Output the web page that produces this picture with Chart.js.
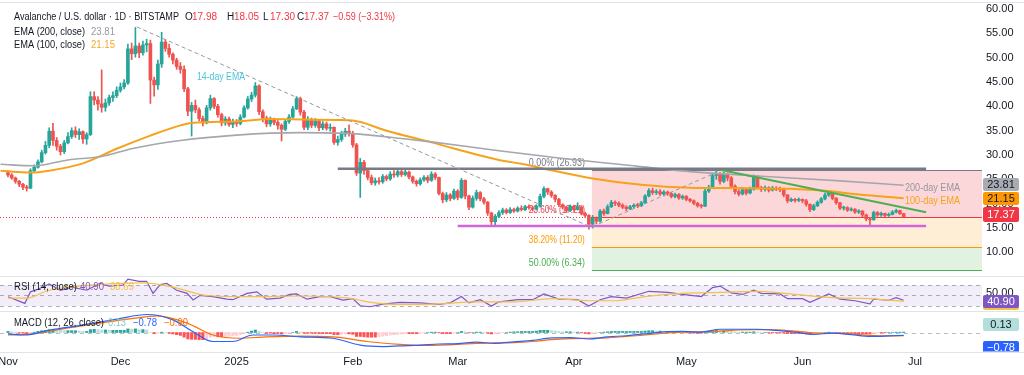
<!DOCTYPE html>
<html><head><meta charset="utf-8">
<script src="https://cdn.jsdelivr.net/npm/chart.js@4.4.1/dist/chart.umd.min.js"></script>
<style>
html,body{margin:0;padding:0;background:#fff;}
body{width:1024px;height:375px;position:relative;overflow:hidden;}
.pane{position:absolute;left:0;width:1024px;}
.sep{position:absolute;left:0;width:1024px;height:1px;background:#e0e3eb;}
</style></head><body>
<div class="pane" style="top:0;height:276px"><canvas id="cMain"></canvas></div>
<div class="pane" style="top:277px;height:34px"><canvas id="cRsi"></canvas></div>
<div class="pane" style="top:312px;height:63px"><canvas id="cMacd"></canvas></div>
<div class="sep" style="top:2px"></div>
<div class="sep" style="top:276px"></div>
<div class="sep" style="top:311px"></div>
<div class="sep" style="top:352px"></div>
<script>
// ---------- DATA (day index 0 = 1 Nov 2024, daily candles) ----------
const opens = [
26.4,25.9,25.3,24.6,24.0,23.4,23.2,26.8,27.5,28.6,
30.5,32.0,34.9,33.0,31.8,30.7,32.5,33.8,35.0,34.2,
34.8,33.3,34.2,42.0,41.3,40.5,39.8,40.7,41.8,42.2,
43.3,44.0,44.8,51.8,50.8,52.4,51.0,52.6,52.9,45.4,
44.4,48.7,53.2,51.9,50.7,49.5,48.2,47.6,43.6,39.0,
40.2,39.3,37.5,36.6,39.7,41.6,40.0,38.3,36.6,37.4,
36.3,36.8,36.5,37.8,39.7,41.5,42.3,44.2,38.9,37.6,
36.4,37.2,36.7,36.1,35.3,36.9,37.8,39.5,41.6,38.8,
35.7,37.3,36.1,37.0,35.6,36.4,35.5,35.7,32.6,33.2,
34.3,34.9,34.4,32.1,26.3,28.5,26.8,25.4,24.3,24.7,
24.5,25.6,25.1,26.1,25.9,26.6,26.0,26.5,25.5,24.6,
24.1,24.9,25.4,24.8,26.1,25.4,22.1,20.8,21.8,21.1,
22.6,21.3,24.8,21.6,19.3,21.1,22.3,21.0,20.3,18.1,
16.3,17.4,18.2,18.7,18.2,18.8,18.5,19.1,18.8,19.4,
19.2,18.9,19.5,21.5,23.1,22.4,21.7,20.9,19.8,19.3,
18.6,19.5,18.8,19.3,18.0,17.6,15.8,17.0,16.4,18.5,
18.0,19.4,20.3,20.1,19.7,19.3,19.0,19.4,19.7,19.6,
20.2,21.6,22.7,22.3,22.5,22.0,22.4,22.1,21.5,21.9,
21.2,21.5,20.9,20.6,20.1,19.6,19.5,22.6,23.4,25.8,
26.1,24.6,26.0,25.3,23.6,22.5,22.0,22.9,22.2,23.0,
25.4,23.3,23.0,23.3,22.8,23.2,23.0,22.9,21.8,20.6,
20.9,20.7,20.9,20.6,19.9,18.8,19.6,20.3,21.0,21.8,
22.3,21.1,20.2,19.1,19.2,18.7,18.9,18.3,18.5,17.7,
16.9,16.7,18.2,17.7,18.0,17.6,17.8,18.3,18.6,17.98];
const highs = [
26.8,26.2,25.5,24.8,24.2,23.8,27.2,28.0,29.0,31.0,
32.8,35.6,36.5,33.6,32.2,33.0,34.6,35.6,35.8,35.4,
35.0,34.6,43.0,43.0,42.0,47.5,41.5,42.3,43.0,44.0,
44.8,45.5,52.8,53.0,56.2,53.0,53.4,53.8,53.6,46.0,
49.5,55.2,53.7,52.8,51.0,49.9,49.0,48.3,43.9,40.8,
41.3,39.7,38.0,40.2,42.3,41.8,40.4,38.6,37.9,37.8,
37.4,37.3,38.3,40.1,42.0,42.9,44.9,44.4,39.3,38.0,
37.8,37.6,37.1,36.4,37.3,38.3,40.0,42.0,41.9,39.2,
37.9,37.6,37.5,37.2,36.9,36.8,36.4,35.8,33.9,34.9,
35.5,36.2,34.9,32.4,29.3,28.9,27.2,25.9,25.3,25.4,
26.0,25.9,26.6,26.8,27.0,26.9,26.9,26.7,25.7,24.9,
25.3,25.8,25.8,26.6,26.4,25.5,22.4,22.3,22.1,23.0,
22.9,25.2,24.9,21.8,21.6,22.8,22.5,21.3,20.5,18.3,
17.8,18.6,19.1,19.0,19.2,19.1,19.4,19.6,19.7,19.8,
19.5,19.8,22.0,23.5,23.2,22.7,21.9,21.1,20.0,19.5,
19.8,19.7,20.2,19.6,18.3,17.8,17.6,17.3,18.8,18.9,
19.8,20.7,20.6,20.4,20.0,19.6,19.7,20.0,20.1,20.5,
21.9,23.1,23.2,22.9,22.9,22.7,22.6,22.3,22.2,22.1,
21.8,21.7,21.1,20.8,20.3,19.9,23.0,23.8,26.3,26.9,
26.4,26.5,26.3,25.6,23.9,22.9,23.3,23.0,23.4,25.9,
25.8,23.6,23.7,23.5,23.6,23.5,23.4,23.0,21.9,21.2,
21.1,21.2,21.0,20.9,20.0,19.9,20.6,21.3,22.2,22.6,
22.5,21.3,20.3,19.5,19.4,19.2,19.0,18.8,18.6,17.9,
17.2,18.5,18.4,18.3,18.1,18.1,18.6,18.9,18.7,18.05];
const lows = [
25.5,25.0,24.2,23.5,22.9,22.6,23.1,26.5,27.3,28.4,
30.2,31.5,32.0,31.0,30.0,30.3,32.3,33.4,33.6,33.2,
32.4,32.2,34.0,40.3,39.2,38.8,39.0,40.2,41.0,41.8,
42.9,43.6,44.5,49.6,50.1,50.0,50.5,51.2,40.6,42.1,
43.5,48.0,51.3,50.1,48.7,47.6,46.8,43.0,38.1,33.9,
38.7,37.0,36.0,36.4,39.2,39.5,37.8,36.0,36.1,35.9,
35.6,35.9,36.2,37.6,39.4,41.0,41.9,38.3,36.8,35.8,
35.9,36.2,35.3,32.9,35.0,36.5,37.6,39.3,38.2,35.2,
35.2,35.6,35.7,35.0,35.2,35.1,34.9,32.2,32.0,32.8,
33.8,33.9,31.6,25.8,21.3,26.0,24.9,23.9,23.8,24.0,
24.2,24.7,24.8,25.4,25.5,25.6,25.7,25.1,24.2,23.6,
23.8,24.6,24.3,24.6,25.0,21.8,20.2,20.4,20.6,20.9,
20.8,21.1,21.0,18.8,19.1,20.7,20.6,19.9,17.6,15.5,
15.4,17.1,17.8,17.9,18.0,18.2,18.3,18.5,18.6,18.9,
18.5,18.7,19.3,21.2,21.9,21.3,20.4,19.4,18.9,18.2,
18.4,18.5,18.7,17.7,17.2,14.8,15.0,15.9,16.2,17.6,
17.9,19.2,19.6,19.4,19.0,18.6,18.8,19.1,19.2,19.4,
20.0,21.4,21.9,21.9,21.7,21.6,21.7,21.2,21.2,20.9,
20.9,20.6,20.3,19.8,19.3,19.1,19.4,22.3,23.2,25.0,
24.0,24.3,24.7,23.2,22.0,21.6,21.8,21.8,22.0,22.8,
23.0,22.5,22.6,22.4,22.6,22.7,22.5,21.4,20.2,20.4,
20.3,20.4,20.2,19.5,18.4,18.6,19.4,20.1,20.8,21.5,
20.8,19.9,18.8,18.7,18.4,18.5,18.0,18.0,17.3,16.5,
15.5,16.6,17.4,17.4,17.3,17.4,17.7,18.1,17.8,17.30];
const closes = [
25.9,25.3,24.6,24.0,23.4,23.2,26.8,27.5,28.6,30.5,
32.0,34.9,33.0,31.8,30.7,32.5,33.8,35.0,34.2,34.8,
33.3,34.2,42.0,41.3,40.5,39.8,40.7,41.8,42.2,43.3,
44.0,44.8,51.8,50.8,52.4,51.0,52.6,52.9,45.4,44.4,
48.7,53.2,51.9,50.7,49.5,48.2,47.6,43.6,39.0,40.2,
39.3,37.5,36.6,39.7,41.6,40.0,38.3,36.6,37.4,36.3,
36.8,36.5,37.8,39.7,41.5,42.3,44.2,38.9,37.6,36.4,
37.2,36.7,36.1,35.3,36.9,37.8,39.5,41.6,38.8,35.7,
37.3,36.1,37.0,35.6,36.4,35.5,35.7,32.6,33.2,34.3,
34.9,34.4,32.1,26.3,28.5,26.8,25.4,24.3,24.7,24.5,
25.6,25.1,26.1,25.9,26.6,26.0,26.5,25.5,24.6,24.1,
24.9,25.4,24.8,26.1,25.4,22.1,20.8,21.8,21.1,22.6,
21.3,24.8,21.6,19.3,21.1,22.3,21.0,20.3,18.1,16.3,
17.4,18.2,18.7,18.2,18.8,18.5,19.1,18.8,19.4,19.2,
18.9,19.5,21.5,23.1,22.4,21.7,20.9,19.8,19.3,18.6,
19.5,18.8,19.3,18.0,17.6,15.8,17.0,16.4,18.5,18.0,
19.4,20.3,20.1,19.7,19.3,19.0,19.4,19.7,19.6,20.2,
21.6,22.7,22.3,22.5,22.0,22.4,22.1,21.5,21.9,21.2,
21.5,20.9,20.6,20.1,19.6,19.5,22.6,23.4,25.8,26.1,
24.6,26.0,25.3,23.6,22.5,22.0,22.9,22.2,23.0,25.4,
23.3,23.0,23.3,22.8,23.2,23.0,22.9,21.8,20.6,20.9,
20.7,20.9,20.6,19.9,18.8,19.6,20.3,21.0,21.8,22.3,
21.1,20.2,19.1,19.2,18.7,18.9,18.3,18.5,17.7,16.9,
16.7,18.2,17.7,18.0,17.6,17.8,18.3,18.6,17.96,17.37];

// EMA lines (day index, value)
const ema200Days = [-2,7,16,25,33,46,61,78,92,105,113,131,147,163,182,200,222,239];
const ema200Vals = [28.1,27.8,29.0,29.7,31.3,33.0,34.1,34.6,34.4,33.4,32.7,30.9,29.4,28.1,26.6,25.7,24.7,23.81];
const ema100Days = [-2,6,11,20,29,38,46,49,61,70,79,88,92,101,113,131,137,143,156,169,182,197,211,219,227,239];
const ema100Vals = [26.8,26.4,26.8,28.3,31.3,34.0,36.1,36.6,36.9,37.4,37.3,37.2,37.1,35.0,32.6,29.0,28.2,27.2,25.2,23.9,23.3,23.2,23.0,22.6,21.9,21.15];

// Drawings
const fallLineDays = [34.4,155.3];  const fallLineVals = [56.3,15.3];
const riseLineDays = [156,189.2];   const riseLineVals = [15.3,26.5];
const greenLineDays = [190,245];    const greenLineVals = [27.0,18.24];
const resistDays = [88,245];        const resistVals = [27.2,27.2];
const supportDays = [120,245];      const supportVals = [15.43,15.43];
const fibStartDay = 155.8;
const fibPrices = [26.93,17.21,11.20,6.34];
const fibLabels = ['0.00% (26.93)','23.60% (17.21)','38.20% (11.20)','50.00% (6.34)'];
const fibLineColors = ['#787b86','#f23645','#ff9800','#4caf50'];
const fibFillColors = ['rgba(242,54,69,0.2)','rgba(255,152,0,0.16)','rgba(76,175,80,0.17)'];
const lastPrice = 17.37;

// Axis
const priceTicks = [10,15,20,25,30,35,40,45,50,55,60];
const monthTicks = [0,30,61,92,120,151,181,212,242];
const monthLabels = ['Nov','Dec','2025','Feb','Mar','Apr','May','Jun','Jul'];

// RSI (14) and its MA
const rsiDays = [0,4.5,6,8,11,14,17,21,24.5,27,30.7,32,35,37,38.7,40.6,42.4,45,47.8,49.4,51.2,54.7,58.4,60,63.8,66.4,69,72.6,75.2,77,79.8,83.2,86,89.4,92,94,96.6,100,104.6,110,115,118,121,123,126,129,131,136,140,143,147,152,155,158,161,165,171,176,180,185,188,190,193,196,199,201,206,208,212,214,219,222,226,230,231,235,237,239];
const rsiVals = [47.7,35,57,62,72,60,66,60,73,68,70,81,77,77,54,70.6,73,60,54,41.4,50,48,43,42,54,57,43,45,52,53,43,48,48,41.3,44,30.5,28.6,33.7,37,36,33,36,48,36,42,30,38,42,42,53,43,42,30,42,48,45,58,56,52,48,65,68,55,52,60,54,53,44,44,37,53,43,40,34,43,41,46,40.9];
const rsiMaDays = [0,5,11,24.5,36,44,53,65,78,91,96,104.6,115,125,135,145,155,162,170,180,190,200,210,220,230,239];
const rsiMaVals = [45,45,60,71,74,66,50,47.7,49,45,38,33,34,38,38,44,40,40,48,54,56,58,52,46,44,38.69];

// MACD (12, 26)
const macdDays = [0,4.5,11.2,20,29,37.1,44,49.4,54.7,60,65.4,70.7,78,86.7,94,100,104.6,110,115,120,125,130,135,140,145,150,155,160,165,170,175,180,185,190,195,200,205,210,215,220,225,230,235,239];
const macdVals = [-0.4,-0.7,0.7,2.1,3.7,5.0,3.5,0.2,-2.5,-2.5,-0.7,-0.7,-1.2,-1.6,-3.5,-3.9,-3.7,-3.5,-3.2,-3.1,-2.7,-3.0,-2.6,-2.2,-1.5,-1.4,-1.8,-1.2,-0.9,-0.4,0.2,0.3,0.1,0.9,0.9,0.9,0.6,0.1,-0.5,-0.2,-0.6,-1.1,-0.95,-0.78];
const signalDays = [0,6.7,15.7,24.5,33.4,39.8,47.8,54.7,61.9,69,78,86.7,95.8,104.6,110,115,120,125,130,135,140,145,150,155,160,165,170,175,180,185,190,195,200,205,210,215,220,225,230,235,239];
const signalVals = [-0.7,-0.4,1.2,2.6,3.9,4.6,2.6,-0.7,-1.6,-1.2,-1.0,-1.2,-2.5,-3.3,-3.6,-3.5,-3.3,-3.0,-2.9,-2.8,-2.5,-2.0,-1.7,-1.6,-1.5,-1.1,-0.7,-0.2,0.1,0.2,0.4,0.7,0.8,0.75,0.4,-0.1,-0.2,-0.4,-0.8,-0.95,-0.90];
const histVals = [
0.3,0.2,0.1,-0.1,-0.2,-0.3,
-0.1,0.1,0.3,0.5,0.6,0.8,0.8,
0.7,0.6,0.5,0.5,0.5,0.5,0.4,0.3,0.3,
0.8,0.9,0.8,0.7,0.7,0.6,0.6,0.6,0.6,0.6,
1.0,0.9,1.0,0.8,0.8,0.7,
0.0,-0.3,-0.2,0.1,0.0,-0.2,-0.4,-0.6,
-0.8,-1.3,-1.8,-1.9,-1.9,-2.0,-2.0,-1.7,-1.3,-1.2,-1.2,
-1.2,-1.1,-1.0,-0.9,-0.8,-0.6,-0.3,0.1,0.4,
0.7,0.3,0.0,-0.2,-0.2,
-0.3,-0.3,-0.4,-0.3,-0.2,0.0,0.3,0.1,-0.2,-0.2,-0.2,-0.2,-0.3,-0.3,-0.3,-0.3,
-0.6,-0.6,-0.5,-0.4,-0.4,-0.5,-1.1,-1.1,-1.2,-1.3,-1.3,-1.3,-1.2,-1.0,-0.9,-0.7,-0.6,-0.5,
-0.4,-0.3,-0.3,-0.3,-0.3,-0.2,-0.1,0.0,0.1,0.1,-0.1,-0.3,-0.3,-0.3,-0.2,0.0,
0.3,0.2,-0.1,0.0,0.1,0.1,0.0,-0.2,-0.4,-0.3,-0.2,-0.1,0.0,0.1,0.2,
0.2,0.3,0.3,0.3,0.3,0.4,0.6,0.6,0.6,0.5,0.4,0.3,0.2,0.2,0.2,
0.1,0.1,-0.1,-0.2,-0.4,-0.3,-0.2,0.0,0.1,0.2,
0.3,0.3,0.3,0.3,0.3,0.3,0.3,0.3,0.3,0.4,0.5,0.5,0.4,0.4,0.3,
0.3,0.2,0.1,0.1,0.0,-0.1,-0.1,-0.2,-0.2,-0.2,0.1,0.3,0.5,0.6,0.5,
0.5,0.4,0.3,0.2,0.1,0.1,0.1,0.1,0.2,0.1,0.0,0.0,-0.1,-0.1,-0.1,
-0.1,-0.2,-0.3,-0.3,-0.3,-0.3,-0.3,-0.4,-0.4,-0.3,-0.2,-0.1,0.0,0.1,0.0,
-0.1,-0.2,-0.2,-0.2,-0.2,-0.3,-0.3,-0.3,-0.4,-0.4,-0.2,-0.1,-0.1,-0.1,0.0,0.0,0.1,0.1,0.13];

// ---------- RENDERING ----------
const FONT = "'Liberation Sans', Arial, sans-serif";
const UP = '#26a69a', DOWN = '#ef5350';
const TXT = '#131722';
const days = closes.map((_, i) => i);
const candleColors = closes.map((c, i) => c >= opens[i] ? UP : DOWN);
const pts = (xs, ys) => xs.map((x, i) => ({x, y: ys[i]}));
const xScale = {type: 'linear', min: -2.13, max: 259.9, display: false, offset: false, grid: {offset: false}};

function T(ctx, s, x, y, color, size, align, maxW, weight) {
  ctx.save();
  ctx.font = (weight || '') + ' ' + size + 'px ' + FONT;
  ctx.fillStyle = color; ctx.textAlign = align || 'left'; ctx.textBaseline = 'middle';
  if (maxW) ctx.fillText(s, x, y, maxW); else ctx.fillText(s, x, y);
  ctx.restore();
}
function tag(ctx, s, yc, bg, fg, h) {
  h = h || 13;
  ctx.save(); ctx.fillStyle = bg;
  ctx.beginPath(); ctx.roundRect(983, Math.round(yc - h / 2), 36, h, 2); ctx.fill(); ctx.restore();
  T(ctx, s, 1001, yc + 0.5, fg, 11, 'center');
}
const commonOpts = (pad, ymin, ymax) => ({
  responsive: true, maintainAspectRatio: false, animation: false, devicePixelRatio: 1,
  layout: {padding: pad},
  plugins: {legend: {display: false}, tooltip: {enabled: false}},
  scales: {x: xScale, y: {min: ymin, max: ymax, display: false}}
});

const mainDecor = {
  id: 'mainDecor',
  beforeDatasetsDraw(chart) {
    const {ctx, chartArea: a, scales: {x, y}} = chart;
    ctx.save();
    const xs = x.getPixelForValue(fibStartDay), xe = a.right;
    for (let i = 0; i < fibFillColors.length; i++) {
      const y1 = y.getPixelForValue(fibPrices[i]), y2 = y.getPixelForValue(fibPrices[i + 1]);
      ctx.fillStyle = fibFillColors[i];
      ctx.fillRect(xs, y1, xe - xs, y2 - y1);
    }
    fibPrices.forEach((p, i) => {
      const yy = Math.round(y.getPixelForValue(p)) + 0.5;
      ctx.strokeStyle = fibLineColors[i]; ctx.lineWidth = 1;
      ctx.beginPath(); ctx.moveTo(xs, yy); ctx.lineTo(xe, yy); ctx.stroke();
      T(ctx, fibLabels[i], xs - 7, yy - 7, fibLineColors[i], 10, 'right', 56);
    });
    const py = Math.round(y.getPixelForValue(lastPrice)) + 0.5;
    ctx.strokeStyle = '#f23645'; ctx.setLineDash([1, 2]); ctx.lineWidth = 1;
    ctx.beginPath(); ctx.moveTo(a.left, py); ctx.lineTo(a.right, py); ctx.stroke();
    ctx.restore();
  },
  afterDatasetsDraw(chart) {
    const {ctx, scales: {x, y}} = chart;
    T(ctx, '14-day EMA', 197, 77, '#4fc3dc', 10, 'left', 48);
    T(ctx, '200-day EMA', 905, 188, '#9598a1', 10, 'left', 55);
    T(ctx, '100-day EMA', 905, 201, '#f7a21b', 10, 'left', 55);
    T(ctx, 'Avalanche / U.S. dollar · 1D · BITSTAMP', 14, 17, TXT, 10, 'left', 165);
    const ohlc = [['O', '17.98', 185], ['H', '18.05', 227], ['L', '17.30', 263], ['C', '17.37', 297]];
    ohlc.forEach(([k, v, px]) => { T(ctx, k, px, 17, TXT, 10); T(ctx, v, px + 7, 17, '#f23645', 10, 'left', 25); });
    T(ctx, '−0.59 (−3.31%)', 333, 17, '#f23645', 10, 'left', 62);
    T(ctx, 'EMA (200, close)', 14, 32, TXT, 10, 'left', 71);
    T(ctx, '23.81', 91, 32, '#9598a1', 10, 'left', 24);
    T(ctx, 'EMA (100, close)', 14, 45, TXT, 10, 'left', 71);
    T(ctx, '21.15', 91, 45, '#f5a623', 10, 'left', 24);
    priceTicks.forEach(v => T(ctx, v.toFixed(2), 986, y.getPixelForValue(v), TXT, 11));
    tag(ctx, '23.81', 184.5, '#a9abb2', TXT);
    tag(ctx, '21.15', 198, '#ff9800', TXT);
    tag(ctx, '17.37', 214, '#f23645', '#ffffff', 15);
  }
};

new Chart(document.getElementById('cMain'), {
  type: 'bar',
  data: {datasets: [
    {type: 'line', data: pts(fallLineDays, fallLineVals), borderColor: '#9598a1', borderWidth: 1, borderDash: [4, 3], pointRadius: 0, order: 1},
    {type: 'line', data: pts(riseLineDays, riseLineVals), borderColor: '#9598a1', borderWidth: 1, borderDash: [4, 3], pointRadius: 0, order: 1},
    {type: 'line', data: pts(resistDays, resistVals), borderColor: '#787b86', borderWidth: 2.5, pointRadius: 0, order: 1},
    {type: 'line', data: pts(supportDays, supportVals), borderColor: '#d563d9', borderWidth: 2.5, pointRadius: 0, order: 1},
    {type: 'line', data: pts(greenLineDays, greenLineVals), borderColor: '#4caf50', borderWidth: 2, pointRadius: 0, order: 1},
    {type: 'line', data: pts(ema200Days, ema200Vals), borderColor: '#a5a7ad', borderWidth: 1.6, pointRadius: 0, cubicInterpolationMode: 'monotone', order: 3},
    {type: 'line', data: pts(ema100Days, ema100Vals), borderColor: '#f7a21b', borderWidth: 2, pointRadius: 0, cubicInterpolationMode: 'monotone', order: 3},
    {type: 'bar', data: days.map(i => ({x: i, y: [lows[i], highs[i]]})), backgroundColor: candleColors, barThickness: 1, grouped: false, order: 6},
    {type: 'bar', data: days.map(i => ({x: i, y: [opens[i], closes[i]]})), backgroundColor: candleColors, barThickness: 3, minBarLength: 1, grouped: false, order: 5}
  ]},
  options: commonOpts({left: 0, right: 42, top: 0, bottom: 1}, 5.37, 61.84),
  plugins: [mainDecor]
});

const rsiDecor = {
  id: 'rsiDecor',
  beforeDatasetsDraw(chart) {
    const {ctx, chartArea: a, scales: {y}} = chart;
    ctx.save();
    const y70 = y.getPixelForValue(70), y30 = y.getPixelForValue(30), y50 = y.getPixelForValue(50);
    ctx.fillStyle = 'rgba(126,87,194,0.1)';
    ctx.fillRect(a.left, y70, a.right - a.left, y30 - y70);
    ctx.strokeStyle = 'rgba(120,123,134,0.6)'; ctx.setLineDash([4, 4]); ctx.lineWidth = 1;
    [y70, y50, y30].forEach(yy => { ctx.beginPath(); ctx.moveTo(a.left, Math.round(yy) + 0.5); ctx.lineTo(a.right, Math.round(yy) + 0.5); ctx.stroke(); });
    ctx.restore();
  },
  afterDatasetsDraw(chart) {
    const {ctx} = chart;
    T(ctx, 'RSI (14, close)', 14, 10, TXT, 10, 'left', 63);
    T(ctx, '40.90', 80, 10, '#7e57c2', 10, 'left', 24);
    T(ctx, '38.69', 110, 10, '#f5c04a', 10, 'left', 24);
    T(ctx, '50.00', 986, 16, TXT, 11);
    tag(ctx, '38.69', 26, '#f5c04a', TXT);
    tag(ctx, '40.90', 24.7, '#7e57c2', '#ffffff');
  }
};
new Chart(document.getElementById('cRsi'), {
  type: 'line',
  data: {datasets: [
    {data: pts(rsiMaDays, rsiMaVals), borderColor: '#f5c04a', borderWidth: 1.2, pointRadius: 0, cubicInterpolationMode: 'monotone'},
    {data: pts(rsiDays, rsiVals), borderColor: '#7e57c2', borderWidth: 1.2, pointRadius: 0}
  ]},
  options: commonOpts({left: 0, right: 42, top: 0, bottom: 0}, 20.5, 85.2),
  plugins: [rsiDecor]
});

const histColors = histVals.map((h, i) => {
  const p = i > 0 ? histVals[i - 1] : h;
  if (h >= 0) return h >= p ? '#26a69a' : '#b2dfdb';
  return h <= p ? '#ff5252' : '#ffcdd2';
});
const macdDecor = {
  id: 'macdDecor',
  beforeDatasetsDraw(chart) {
    const {ctx, chartArea: a, scales: {y}} = chart;
    ctx.save();
    const y0 = Math.round(y.getPixelForValue(0)) + 0.5;
    ctx.strokeStyle = 'rgba(120,123,134,0.5)'; ctx.setLineDash([4, 4]); ctx.lineWidth = 1;
    ctx.beginPath(); ctx.moveTo(a.left, y0); ctx.lineTo(a.right, y0); ctx.stroke();
    ctx.restore();
  },
  afterDatasetsDraw(chart) {
    const {ctx, scales: {x}} = chart;
    T(ctx, 'MACD (12, 26, close)', 14, 11, TXT, 10, 'left', 90);
    T(ctx, '0.13', 108, 11, '#80cbc4', 10, 'left', 18);
    T(ctx, '−0.78', 133, 11, '#2962ff', 10, 'left', 24);
    T(ctx, '−0.90', 164, 11, '#ff6d00', 10, 'left', 24);
    tag(ctx, '0.13', 12.5, '#b2dfdb', TXT);
    ctx.save(); ctx.beginPath(); ctx.rect(980, 0, 44, 39.5); ctx.clip();
    tag(ctx, '−0.78', 35, '#2962ff', '#ffffff');
    ctx.restore();
    monthTicks.forEach((d, i) => T(ctx, monthLabels[i], x.getPixelForValue(d), 50, TXT, 11, 'center'));
  }
};
new Chart(document.getElementById('cMacd'), {
  type: 'bar',
  data: {datasets: [
    {type: 'line', data: pts(signalDays, signalVals), borderColor: '#ff6d00', borderWidth: 1.2, pointRadius: 0, cubicInterpolationMode: 'monotone', order: 1},
    {type: 'line', data: pts(macdDays, macdVals), borderColor: '#2962ff', borderWidth: 1.2, pointRadius: 0, cubicInterpolationMode: 'monotone', order: 0},
    {type: 'bar', data: days.map(i => ({x: i, y: histVals[i]})), backgroundColor: histColors, barThickness: 2.4, grouped: false, order: 3}
  ]},
  options: commonOpts({left: 0, right: 42, top: 1, bottom: 24}, -5.14, 5.42),
  plugins: [macdDecor]
});
</script></body></html>
